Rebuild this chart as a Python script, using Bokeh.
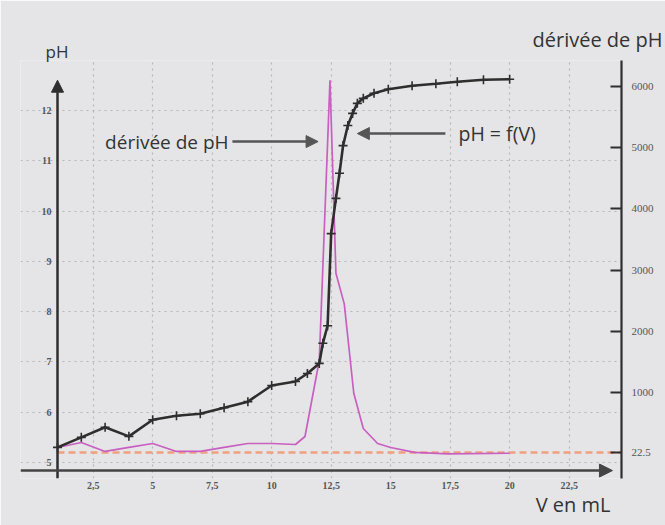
from bokeh.plotting import figure
from bokeh.models import Range1d, LinearAxis, FixedTicker, Label, Arrow, NormalHead, Title
from bokeh.embed import file_html
from bokeh.resources import INLINE

# pH = f(V) measurements
volume_ph = [1, 2, 3, 4, 5, 6, 7, 8, 9, 10, 11, 11.5, 12, 12.15, 12.35, 12.5, 12.7, 12.85,
             13.0, 13.2, 13.4, 13.6, 13.85, 14.3, 14.9, 15.9, 16.9, 17.8, 18.9, 20]
ph = [5.30, 5.50, 5.70, 5.52, 5.85, 5.93, 5.97, 6.09, 6.21, 6.53, 6.61, 6.77, 6.97, 7.37, 7.72,
      9.55, 10.25, 10.75, 11.30, 11.70, 11.94, 12.14, 12.24, 12.34, 12.42, 12.49, 12.53, 12.57,
      12.61, 12.62]

# derivative of pH
volume_deriv = [1, 2, 3, 4, 5, 6, 7, 8, 9, 10, 11, 11.4, 12, 12.45, 12.7, 13.05, 13.45, 13.85,
                14.45, 15, 16, 17.4, 20]
deriv = [105, 186, 40, 105, 170, 40, 40, 105, 170, 170, 153, 284, 1525, 6100, 2950, 2450, 990,
         415, 170, 105, 25, 0, 10]

ph_ticks = [5, 6, 7, 8, 9, 10, 11, 12]
deriv_ticks = [22.5, 1000, 2000, 3000, 4000, 5000, 6000]
v_ticks = [2.5, 5, 7.5, 10, 12.5, 15, 17.5, 20, 22.5]
v_tick_labels = ["2,5", "5", "7,5", "10", "12,5", "15", "17,5", "20", "22,5"]
reference_level = 22.5
v_axis_origin = 1       # where the pH axis crosses the V axis
v_axis_end = 24.7       # where the derivative axis stands

BG = "#e5e5e7"
INK = "#2e2e2e"
PINK = "#c95fc0"
TICK_FONT = "Liberation Serif"
TXT_FONT = "Open Sans"

p = figure(width=665, height=525, output_backend="svg", toolbar_location=None, title=None,
           x_range=Range1d(-0.555, v_axis_end), y_range=Range1d(4.682, 12.992),
           min_border_left=20, min_border_right=44, min_border_top=60, min_border_bottom=47,
           background_fill_color=BG, border_fill_color=BG, outline_line_color=None)
p.extra_y_ranges = {"deriv": Range1d(-402, 6425)}

# left pH axis (labels drawn just left of the arrow axis)
p.yaxis.ticker = FixedTicker(ticks=ph_ticks)
p.yaxis.axis_line_color = None
p.yaxis.major_tick_line_color = None
p.yaxis.minor_tick_line_color = None
p.yaxis.major_label_standoff = -37
p.yaxis.major_label_text_font = TICK_FONT
p.yaxis.major_label_text_font_size = "10px"
p.yaxis.major_label_text_font_style = "bold"
p.yaxis.major_label_text_color = "#555555"

# bottom V axis
p.xaxis.ticker = FixedTicker(ticks=v_ticks)
p.xaxis.major_label_overrides = {t: s for t, s in zip(v_ticks, v_tick_labels)}
p.xaxis.axis_line_color = None
p.xaxis.major_tick_line_color = None
p.xaxis.minor_tick_line_color = None
p.xaxis.major_label_standoff = -3
p.xaxis.major_label_text_font = TICK_FONT
p.xaxis.major_label_text_font_size = "10px"
p.xaxis.major_label_text_font_style = "bold"
p.xaxis.major_label_text_color = "#555555"

# right derivative axis
raxis = LinearAxis(y_range_name="deriv", ticker=FixedTicker(ticks=deriv_ticks),
                   axis_line_color=INK, axis_line_width=2.2, major_tick_in=11, major_tick_out=0,
                   major_tick_line_width=2, major_tick_line_color=INK,
                   minor_tick_line_color=None, major_label_standoff=10,
                   major_label_text_font=TICK_FONT, major_label_text_font_size="11px",
                   major_label_text_color="#555555")
p.add_layout(raxis, "right")

for g in (p.xgrid, p.ygrid):
    g.grid_line_color = "#b5b5ba"
    g.grid_line_dash = "2 4"
    g.grid_line_width = 1.2
p.ygrid.bounds = (v_axis_origin, v_axis_end)

# reference dashed line
p.line([v_axis_origin, v_axis_end], [reference_level, reference_level], y_range_name="deriv",
       line_color="#f0a07e", line_dash="7 4", line_width=2.5)

# curves
p.line(volume_deriv, deriv, y_range_name="deriv", line_color=PINK, line_width=1.7)
p.line(volume_ph, ph, line_color=INK, line_width=2.6)
p.scatter(volume_ph, ph, marker="cross", size=9, line_color=INK, line_width=1.6)

# axis lines with arrows
p.add_layout(Arrow(end=NormalHead(size=12, fill_color=INK, line_color=INK),
                   x_start=v_axis_origin, y_start=4.682, x_end=v_axis_origin, y_end=12.6,
                   line_color=INK, line_width=2.5))
p.add_layout(Arrow(end=NormalHead(size=13, fill_color="#444", line_color="#444"),
                   x_start=-0.555, y_start=4.84, x_end=24.32, y_end=4.84,
                   line_color="#444", line_width=2.5))

# annotation arrows
p.add_layout(Arrow(end=NormalHead(size=12, fill_color="#555", line_color="#555"),
                   x_start=8.35, y_start=11.38, x_end=11.95, y_end=11.38,
                   line_color="#555", line_width=2.5))
p.add_layout(Arrow(end=NormalHead(size=12, fill_color="#555", line_color="#555"),
                   x_start=17.3, y_start=11.54, x_end=13.6, y_end=11.54,
                   line_color="#555", line_width=2.5))

# texts inside the plot
def lab(x, y, t, size, align="left"):
    p.add_layout(Label(x=x, y=y, text=t, text_font=TXT_FONT, text_font_size=size,
                       text_color="#333333", text_baseline="middle", text_align=align))

lab(3.0, 11.38, "dérivée de pH", "19px")
lab(17.85, 11.54, "pH = f(V)", "19.5px")

# axis titles placed in the borders
def ttl(t, side, align, offset, standoff, size):
    p.add_layout(Title(text=t, align=align, offset=offset, standoff=standoff,
                       text_font=TXT_FONT, text_font_size=size, text_font_style="normal",
                       text_color="#333333"), side)

ttl("pH", "above", "left", 25, -4, "17px")
ttl("dérivée de pH", "above", "right", -41, -27, "20px")
ttl("V en mL", "below", "right", 11, -6, "20px")

open("out.html", "w").write(file_html(p, INLINE))
